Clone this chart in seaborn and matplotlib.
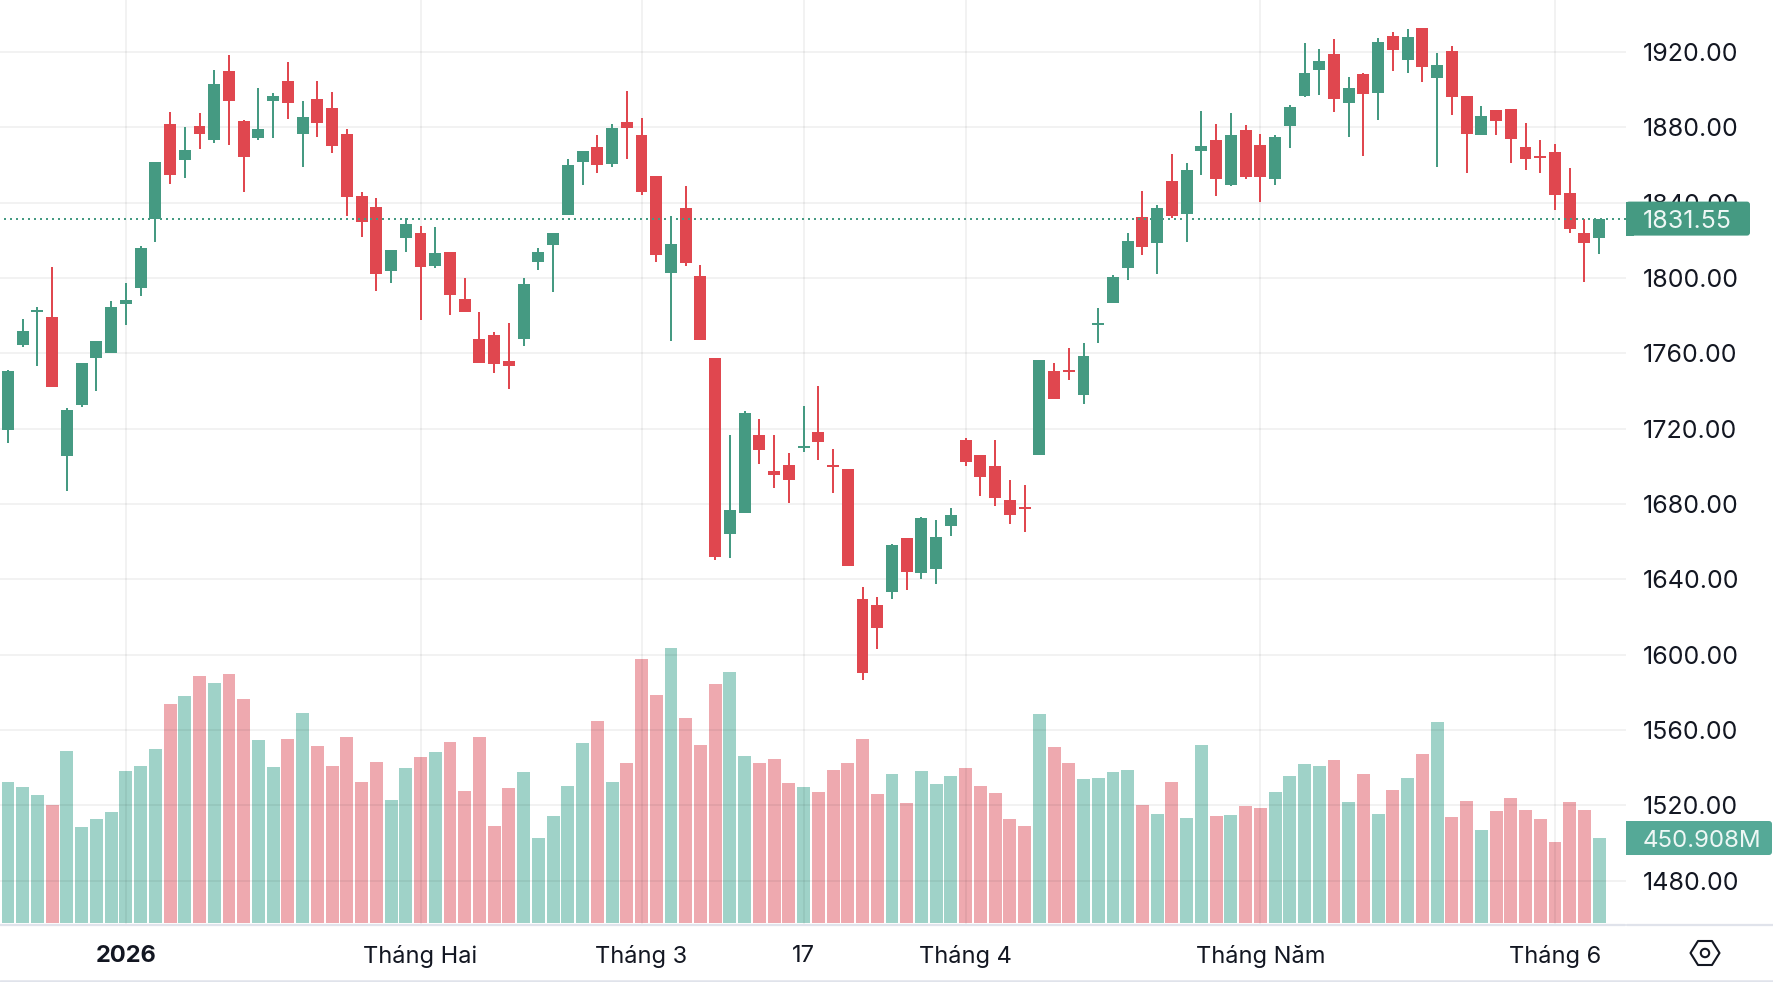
import numpy as np
import pandas as pd
import matplotlib
matplotlib.use("Agg")
import matplotlib.pyplot as plt
from matplotlib.patches import FancyBboxPatch, Rectangle, Polygon, Circle
from matplotlib.lines import Line2D
import seaborn as sns

# Daily index candles, Jan-Jun 2026
opens = [1719.3,1764.4,1781.9,1779.3,1705.5,1732.6,1757.5,1760.2,1786.2,1794.7,
         1831.3,1881.8,1862.6,1880.7,1873.3,1909.9,1883.4,1874.3,1894,1904.6,
         1876.4,1895,1890.3,1876.4,1843.5,1837.7,1803.7,1821.2,1823.9,1806.4,
         1813.8,1788.9,1767.7,1769.8,1755.9,1767.7,1808.4,1817.4,1833.4,1861.5,
         1869.5,1860.5,1882.7,1876,1854.2,1802.7,1837.2,1801,1757.6,1664.1,
         1675.3,1716.6,1697.5,1700.7,1709.7,1718.1,1700.7,1698.6,1629.5,1626.4,
         1633.3,1662,1643.4,1645.5,1668.4,1714,1706,1700.2,1682.2,1678.4,
         1706,1750.7,1751.2,1737.9,1775.1,1786.8,1805.3,1832.4,1818.6,1851.5,
         1834,1867.4,1873.3,1849.4,1878.6,1870.6,1852.6,1880.7,1896.6,1910.4,
         1918.9,1892.9,1908.3,1898.2,1928.5,1915.7,1932.7,1906.2,1920.5,1896.6,
         1875.9,1889.2,1889.7,1869.5,1864.8,1866.9,1845.1,1823.9,1821.2]
highs = [1751.1,1778.2,1784.6,1805.8,1731,1754.9,1766.6,1787.8,1797.3,1817,
         1861.6,1888.1,1880.2,1887.6,1910.4,1918.4,1883.9,1900.9,1898.2,1914.7,
         1894,1904.6,1898.8,1879.1,1845.7,1842.5,1814.9,1831.8,1827.6,1827.1,
         1813.8,1800,1781.9,1771.2,1776,1800,1816,1823.9,1863.2,1867.4,
         1876,1881.7,1899.3,1885,1854.2,1833,1848.9,1806.9,1757.6,1716.6,
         1729.4,1725,1716.6,1707,1731.9,1742.7,1709.1,1698.6,1635.8,1630.6,
         1658.8,1662,1673.1,1671.5,1677.9,1715.1,1706,1714,1692.8,1690.1,
         1756.5,1754.9,1762.9,1765.5,1784.1,1801.6,1823.9,1846.2,1838.7,1865.8,
         1861,1888.7,1881.8,1887.6,1881.2,1876.4,1875.9,1891.8,1924.8,1921.6,
         1926.9,1906.7,1908.8,1927.4,1930.6,1932.2,1932.7,1919.5,1923.2,1896.6,
         1891.3,1889.2,1889.7,1882.3,1873.3,1871.1,1858.4,1831.3,1831.55]
lows = [1712.4,1763.4,1753.3,1742.1,1686.9,1731.5,1740,1760.2,1775,1790.4,
        1819.1,1849.9,1853.1,1868.5,1871.7,1870.6,1845.7,1873.3,1874.3,1884.4,
        1858.9,1874.9,1866.4,1832.9,1821.8,1793.1,1797.3,1813.8,1777.7,1805.3,
        1780.3,1781.9,1754.9,1749.6,1741,1763.9,1804.2,1792.7,1833.4,1849.3,
        1855.9,1859,1863.2,1844.1,1808.4,1766.6,1806.3,1767,1650.3,1651.3,
        1675.3,1701.3,1688.5,1680.5,1707.6,1703.4,1685.7,1647.1,1586.4,1603,
        1629.6,1634.4,1640.2,1637.6,1663,1700.2,1684.3,1679,1669.4,1665.2,
        1706,1735.8,1745.9,1733.1,1765.5,1786.8,1799,1812.2,1802.1,1831.8,
        1819.1,1854.7,1843.5,1848.8,1852.6,1840.3,1849.4,1869,1896.1,1897.2,
        1888.1,1874.9,1864.8,1883.9,1909.9,1908.8,1904.1,1858.9,1886.5,1855.7,
        1875.9,1875.9,1861.1,1857.3,1855.7,1836.1,1823.9,1797.9,1812.7]
closes = [1750.6,1771.8,1783,1742.1,1729.9,1754.9,1766.6,1784.6,1788.3,1815.9,
          1861.6,1854.7,1868,1876.4,1903,1894,1864.2,1879.1,1896.6,1892.9,
          1885.5,1882.3,1870.1,1843,1829.7,1802.1,1814.9,1828.7,1805.8,1813.3,
          1791,1781.9,1754.9,1754.2,1753.2,1796.9,1813.9,1823.9,1860.1,1867.4,
          1860.1,1879.6,1879.6,1845.5,1812.2,1818,1808,1767,1651.8,1676.8,
          1728.4,1708.7,1695.4,1692.7,1710.8,1712.9,1699.8,1647.1,1590.2,1614.2,
          1658.3,1643.9,1672.6,1662.5,1674.2,1702.3,1694.4,1683.2,1674.2,1677.4,
          1756.5,1735.8,1750.1,1758.6,1776.1,1800.6,1819.6,1816.4,1837.1,1832.9,
          1857.3,1870.1,1852.6,1875.9,1853.6,1853.6,1874.9,1890.8,1908.8,1915.2,
          1895,1900.9,1897.7,1925.3,1921.1,1928,1912,1913.1,1896.1,1876.4,
          1886,1883.4,1873.8,1863.2,1863.7,1844.1,1826,1818.6,1831.55]
# Traded volume in millions of shares
volumes = [748,721,679,626,912,509,552,589,806,833,
           923,1162,1204,1310,1273,1321,1188,971,827,976,
           1114,939,833,987,748,854,652,822,880,907,
           960,700,987,514,716,801,451,568,727,955,
           1071,748,849,1400,1209,1459,1087,944,1268,1331,
           886,849,870,743,721,695,812,849,976,684,
           790,636,806,737,780,822,727,690,552,514,
           1109,934,849,764,769,801,812,626,578,748,
           557,944,568,573,621,610,695,780,843,833,
           865,642,790,578,705,769,896,1066,562,647,
           493,594,663,599,552,430,642,599,450.908]
price_ticks = [1480,1520,1560,1600,1640,1680,1720,1760,1800,1840,1880,1920]
date_positions = [8,28,43,54,65,85,105]
date_labels = ["2026","Tháng Hai","Tháng 3","17","Tháng 4","Tháng Năm","Tháng 6"]
last_price = 1831.55
last_volume = 450.908

UP = "#459a82"
DOWN = "#e0474f"
INK = "#131722"
RULE = "#e0e3eb"
WIDTH, HEIGHT = 1774, 982
PANE_W, PANE_H = 1626, 924
X_RANGE = (-0.543, 109.82)
DATE_SIZE = 17
PRICE_SIZE = 18

sns.set_theme(style="white")
plt.rcParams["font.family"] = ["Inter", "DejaVu Sans"]

frame = pd.DataFrame({"open": opens, "high": highs, "low": lows,
                      "close": closes, "volume": volumes})
frame["pos"] = np.arange(len(frame))
frame["dir"] = np.where(frame["close"] >= frame["open"], "up", "down")

fig = plt.figure(figsize=(WIDTH / 100, HEIGHT / 100), dpi=100, facecolor="white")
rect = [0, (HEIGHT - PANE_H) / HEIGHT, PANE_W / WIDTH, PANE_H / HEIGHT]

# Volume sits in its own pane behind the price candles
ax_vol = fig.add_axes(rect, zorder=1)
sns.barplot(data=frame, x="pos", y="volume", hue="dir", native_scale=True,
            palette={"up": "#41a793", "down": "#df5561"}, dodge=False,
            saturation=1, width=0.88, alpha=0.5, linewidth=0, errorbar=None,
            legend=False, ax=ax_vol)
ax_vol.set_xlim(*X_RANGE)
ax_vol.set_ylim(-5.3, 4896.5)
ax_vol.axis("off")

ax = fig.add_axes(rect, zorder=2)
ax.patch.set_visible(False)
ax.set_xlim(*X_RANGE)
ax.set_ylim(1457.03, 1947.61)
ax.set_axisbelow(True)
ax.grid(True, color="black", alpha=0.05, linewidth=1.44)

colors = frame["dir"].map({"up": UP, "down": DOWN})
ax.vlines(frame["pos"], frame["low"], frame["high"], colors=colors,
          linewidth=1.44, zorder=3)
body_low = frame[["open", "close"]].min(axis=1)
body_high = frame[["open", "close"]].max(axis=1)
ax.bar(frame["pos"], body_high - body_low, bottom=body_low, width=0.81,
       color=colors, linewidth=0, zorder=4)
ax.axhline(last_price, color=UP, linewidth=1.44,
           linestyle=(1, (1, 2)), dash_capstyle="butt", zorder=5)

for side in ax.spines.values():
    side.set_visible(False)
ax.yaxis.tick_right()
ax.set_yticks(price_ticks, [f"{t:.2f}" for t in price_ticks])
ax.set_xticks(date_positions, date_labels)
ax.tick_params(axis="y", length=0, pad=12, labelsize=PRICE_SIZE, labelcolor=INK)
ax.tick_params(axis="x", length=0, pad=15, labelsize=DATE_SIZE, labelcolor=INK)
ax.get_xticklabels()[0].set_fontweight("bold")
ax.set_xlabel("")
ax.set_ylabel("")

# Pixel-based overlay for the value tags, the axis rules and the settings icon
ov = fig.add_axes([0, 0, 1, 1], zorder=10)
ov.patch.set_visible(False)
ov.set_xlim(0, WIDTH)
ov.set_ylim(HEIGHT, 0)
ov.axis("off")


def tag(center_y, right, face, text, size):
    top = center_y - 17
    ov.add_patch(FancyBboxPatch((PANE_W, top), right - PANE_W, 34,
                                boxstyle="round,pad=0,rounding_size=3",
                                facecolor=face, edgecolor="none"))
    ov.add_patch(Rectangle((PANE_W, top), 8, 34, facecolor=face, edgecolor="none"))
    ov.text(1643, center_y, text, color="#eef7f5", fontsize=size,
            ha="left", va="center_baseline")


price_y = HEIGHT - ax.transData.transform((0, last_price))[1]
volume_y = HEIGHT - ax_vol.transData.transform((0, last_volume))[1]
tag(price_y, 1750, UP, f"{last_price:.2f}", PRICE_SIZE)
tag(volume_y, 1772, "#55a997", f"{last_volume:.3f}M", 17.3)

ov.add_line(Line2D([0, PANE_W - 1], [924.5, 924.5], color=RULE, linewidth=1.6))
ov.add_line(Line2D([PANE_W + 1, WIDTH], [924.5, 924.5], color=RULE, linewidth=1.6))
ov.add_line(Line2D([0, WIDTH], [980.8, 980.8], color=RULE, linewidth=1.8))

ov.add_patch(Polygon([(1690.5, 953), (1698, 941), (1712, 941), (1719.5, 953),
                      (1712, 965), (1698, 965)], closed=True, fill=False,
                     edgecolor=INK, linewidth=1.5, joinstyle="round"))
ov.add_patch(Circle((1705, 953), 4.2, fill=False, edgecolor=INK, linewidth=1.5))

fig.savefig("out.png", dpi=100, facecolor="white")
